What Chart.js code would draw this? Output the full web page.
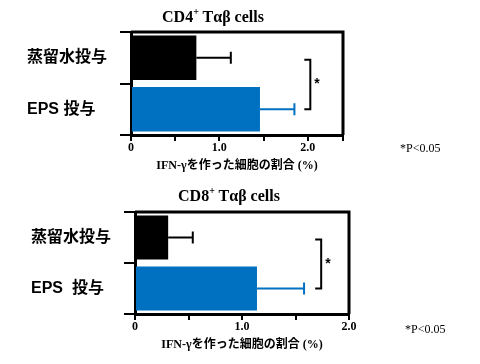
<!DOCTYPE html>
<html>
<head>
<meta charset="utf-8">
<script src="https://cdn.jsdelivr.net/npm/chart.js@4.4.1/dist/chart.umd.min.js"></script>
<style>
  body { margin: 0; background: #fff; width: 480px; height: 364px; position: relative; overflow: hidden; }
  .panel { position: absolute; left: 0; width: 480px; }
  .title { position: absolute; font: bold 16px "Liberation Serif", "DejaVu Serif", serif; color: #000; text-align: center; white-space: nowrap; }
  .title sup { font-size: 10px; position: relative; top: -1px; }
  .note { position: absolute; font: 12px "Liberation Serif", "DejaVu Serif", serif; color: #000; white-space: nowrap; }
</style>
</head>
<body>
<div class="panel" style="top:0;height:180px"><canvas id="cd4Chart" width="480" height="180"></canvas></div>
<div class="panel" style="top:180px;height:184px"><canvas id="cd8Chart" width="480" height="184"></canvas></div>
<div class="title" style="left:113px;width:200px;top:7px">CD4<sup>+</sup> Tαβ cells</div>
<div class="title" style="left:129px;width:200px;top:186px">CD8<sup>+</sup> Tαβ cells</div>
<div class="note" style="left:400px;top:141px">*P&lt;0.05</div>
<div class="note" style="left:405px;top:322px">*P&lt;0.05</div>
<script>
// Data
const cd4Categories = ['蒸留水投与', 'EPS 投与'];
const cd4Means = [0.74, 1.46];
const cd4Errors = [0.39, 0.39];

const cd8Categories = ['蒸留水投与', 'EPS  投与'];
const cd8Means = [0.31, 1.14];
const cd8Errors = [0.23, 0.44];

const barColors = ['#000000', '#0070c0'];
const axisTitle = 'IFN-γを作った細胞の割合 (%)';

// Error bars, significance bracket and frame
const extrasPlugin = {
    id: 'extras',
    afterDatasetsDraw(chart, args, opts) {
        const ctx = chart.ctx;
        const xs = chart.scales.x, ys = chart.scales.y;
        const meta = chart.getDatasetMeta(0);
        ctx.save();
        ctx.lineWidth = 2;
        meta.data.forEach((bar, i) => {
            const v = chart.data.datasets[0].data[i];
            const x0 = xs.getPixelForValue(v);
            const x1 = xs.getPixelForValue(v + opts.errors[i]);
            ctx.strokeStyle = barColors[i];
            ctx.beginPath();
            ctx.moveTo(x0, bar.y);
            ctx.lineTo(x1, bar.y);
            ctx.moveTo(x1, bar.y - 6);
            ctx.lineTo(x1, bar.y + 6);
            ctx.stroke();
        });
        // bracket
        const bx = xs.getPixelForValue(opts.bracketAt);
        const y0 = ys.getPixelForValue(0) + 2;
        const y1 = ys.getPixelForValue(1);
        ctx.strokeStyle = '#000';
        ctx.beginPath();
        ctx.moveTo(bx - 6, y0);
        ctx.lineTo(bx, y0);
        ctx.lineTo(bx, y1);
        ctx.lineTo(bx - 6, y1);
        ctx.stroke();
        ctx.fillStyle = '#000';
        ctx.font = 'bold 14px "Liberation Sans", sans-serif';
        ctx.textAlign = 'left';
        ctx.textBaseline = 'middle';
        ctx.fillText('*', bx + 4, (y0 + y1) / 2);
        // frame (top and right sides)
        const a = chart.chartArea;
        ctx.lineWidth = 3;
        ctx.beginPath();
        ctx.moveTo(a.left, a.top);
        ctx.lineTo(a.right, a.top);
        ctx.lineTo(a.right, a.bottom);
        ctx.stroke();
        ctx.restore();
    }
};

function makeChart(id, categories, means, errors, xMax, bracketAt, padLeft, axisHeight, titlePad) {
    const canvas = document.getElementById(id);
    return new Chart(canvas.getContext('2d'), {
        type: 'bar',
        data: {
            labels: categories,
            datasets: [{
                data: means,
                backgroundColor: barColors,
                borderWidth: 0,
                barPercentage: 0.86,
                categoryPercentage: 1
            }]
        },
        options: {
            indexAxis: 'y',
            responsive: false,
            animation: false,
            layout: { padding: { left: padLeft, top: 32, right: 480 - padLeft - 104 - (xMax === 2.4 ? 212 : 214), bottom: 0 } },
            plugins: {
                legend: { display: false },
                tooltip: { enabled: false },
                extras: { errors: errors, bracketAt: bracketAt }
            },
            scales: {
                x: {
                    min: 0,
                    max: xMax,
                    afterFit: s => { s.height = axisHeight; },
                    ticks: {
                        stepSize: 0.5,
                        padding: 0,
                        maxRotation: 0,
                        autoSkip: false,
                        color: '#000',
                        font: { family: '"Liberation Serif", serif', weight: 'bold', size: 12 },
                        callback: v => v === 0 ? '0' : (Math.abs(v - Math.round(v)) < 1e-6 ? v.toFixed(1) : '')
                    },
                    grid: { drawOnChartArea: false, drawTicks: true, tickLength: 6, color: '#000', lineWidth: 2 },
                    border: { display: true, color: '#000', width: 3 },
                    title: {
                        display: true,
                        text: axisTitle,
                        color: '#000',
                        font: { family: '"Liberation Serif", "Noto Sans CJK JP", serif', weight: 'bold', size: 12 },
                        padding: { top: 0, bottom: titlePad }
                    }
                },
                y: {
                    afterFit: s => { s.width = 104; },
                    ticks: {
                        crossAlign: 'far',
                        color: '#000',
                        font: { family: '"Liberation Sans", "Noto Sans CJK JP", sans-serif', weight: 'bold', size: 16 }
                    },
                    grid: { drawOnChartArea: false, drawTicks: true, tickLength: 11, color: '#000', lineWidth: 2, offset: true },
                    border: { display: true, color: '#000', width: 3 }
                }
            }
        },
        plugins: [extrasPlugin]
    });
}

makeChart('cd4Chart', cd4Categories, cd4Means, cd4Errors, 2.4, 2.03, 27, 45, 7);
makeChart('cd8Chart', cd8Categories, cd8Means, cd8Errors, 2.0, 1.74, 31, 50, 12);
</script>
</body>
</html>
